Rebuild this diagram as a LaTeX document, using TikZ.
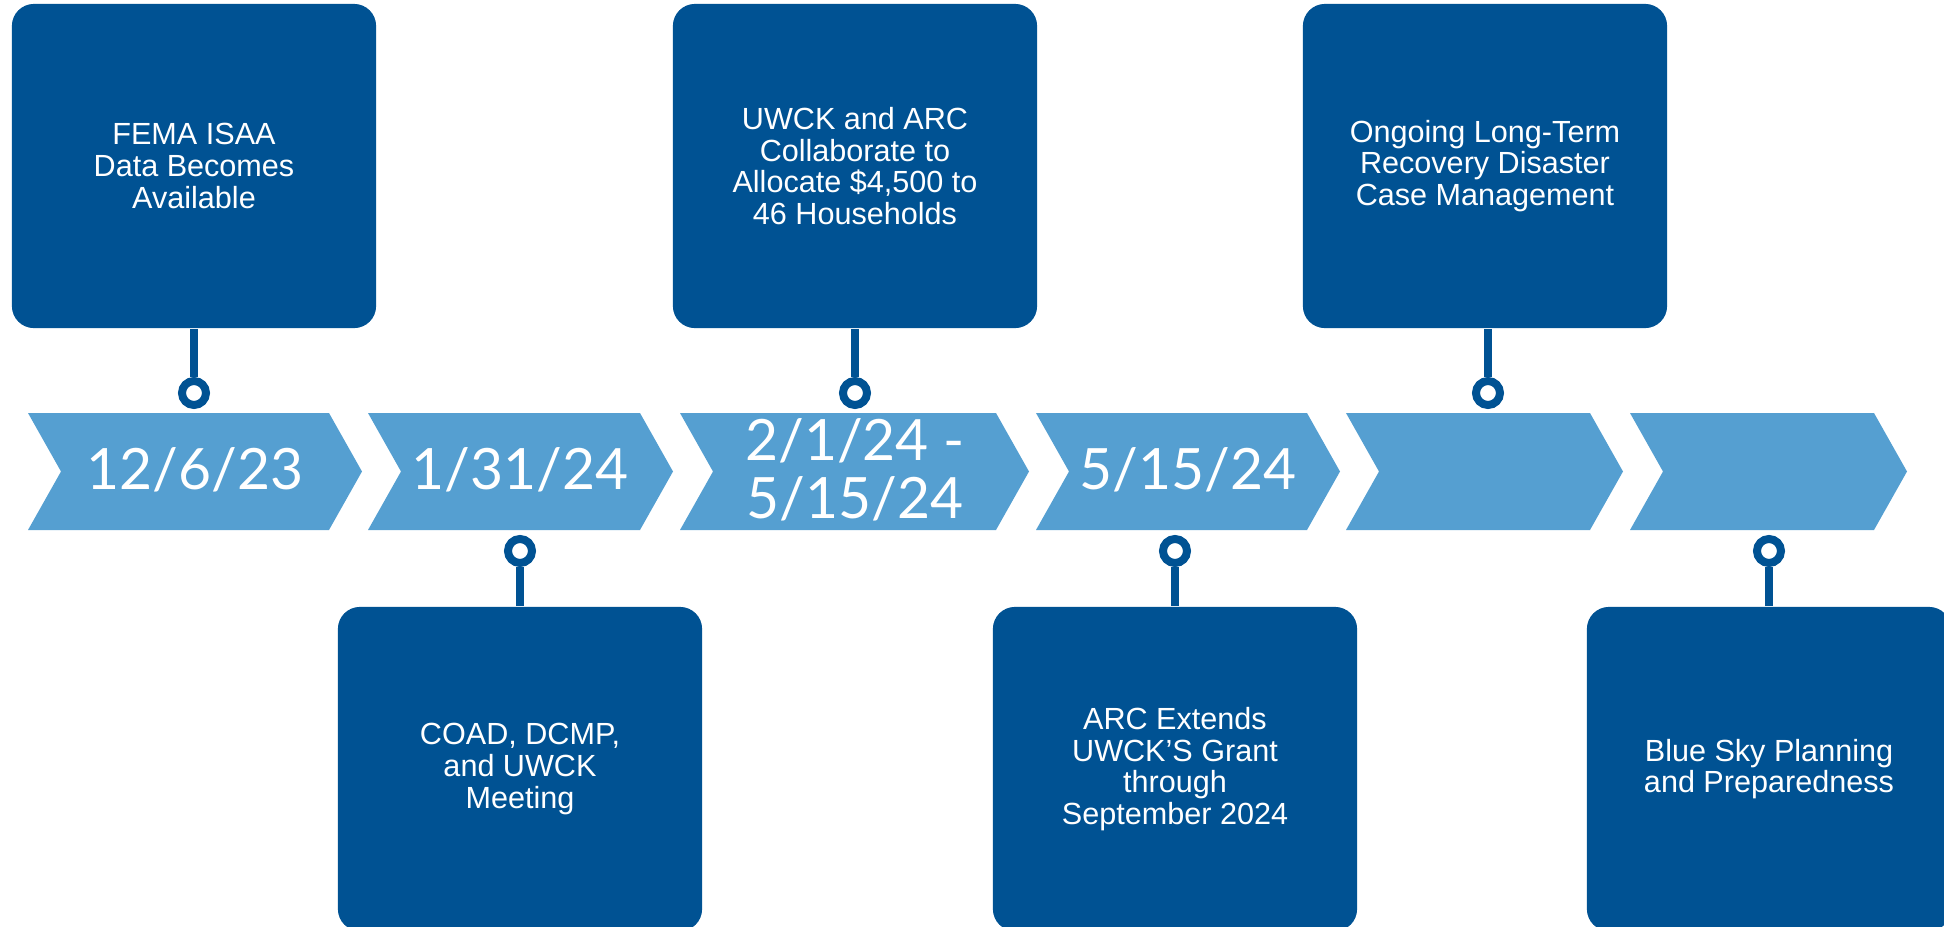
\documentclass[tikz,border=0pt]{standalone}
\usepackage{fontspec}
\setmainfont{Liberation Sans}
\newfontfamily\fontedata{Lato}
\usepackage{xcolor}
\definecolor{azulescuro}{RGB}{0,82,147}
\definecolor{azulclaro}{RGB}{85,159,209}

\begin{document}
\begin{tikzpicture}[x=0.01cm, y=-0.01cm,
  caixa/.style={fill=azulescuro, rounded corners=0.22cm, minimum width=3.64cm, minimum height=3.24cm,
    inner sep=0pt, text=white, align=center, font=\fontsize{8.7}{9}\selectfont},
  pino/.style={circle, draw=azulescuro, line width=0.08cm, fill=white, minimum size=0.24cm, inner sep=0pt},
  haste/.style={draw=azulescuro, line width=0.08cm},
  datas/.style={text=white, align=center, inner sep=0pt, font=\fontedata\fontsize{16.2}{16.5}\selectfont}]

% Area da figura
\clip (0,0) rectangle (1944,927);

% Setas da linha do tempo
\fill[azulclaro] (28,413) -- (329,413) -- (362,471.5) -- (329,530) -- (28,530) -- (61,471.5) -- cycle;
\fill[azulclaro] (368,413) -- (640,413) -- (673,471.5) -- (640,530) -- (368,530) -- (401,471.5) -- cycle;
\fill[azulclaro] (680,413) -- (996,413) -- (1029,471.5) -- (996,530) -- (680,530) -- (713,471.5) -- cycle;
\fill[azulclaro] (1036,413) -- (1307,413) -- (1340,471.5) -- (1307,530) -- (1036,530) -- (1069,471.5) -- cycle;
\fill[azulclaro] (1346,413) -- (1590,413) -- (1623,471.5) -- (1590,530) -- (1346,530) -- (1379,471.5) -- cycle;
\fill[azulclaro] (1630,413) -- (1874,413) -- (1907,471.5) -- (1874,530) -- (1630,530) -- (1663,471.5) -- cycle;

% Datas
\node[datas] (d1) at (195,470) {12/6/23};
\node[datas] (d2) at (520,470) {1/31/24};
\node[datas] (d3) at (855,470) {2/1/24 -\\5/15/24};
\node[datas] (d4) at (1188,470) {5/15/24};

% Caixas de cima
\node[caixa] (c1) at (194,166) {FEMA ISAA\\Data Becomes\\Available};
\node[caixa] (c3) at (855,166) {UWCK and ARC\\Collaborate to\\Allocate \$4,500 to\\46 Households};
\node[caixa] (c5) at (1485,166) {Ongoing Long-Term\\Recovery Disaster\\Case Management};

% Caixas de baixo
\node[caixa] (c2) at (520,769) {COAD, DCMP,\\and UWCK\\Meeting};
\node[caixa] (c4) at (1175,769) {ARC Extends\\UWCK’S Grant\\through\\September 2024};
\node[caixa] (c6) at (1769,769) {Blue Sky Planning\\and Preparedness};

% Pinos
\node[pino] (p1) at (194,393) {};
\node[pino] (p3) at (855,393) {};
\node[pino] (p5) at (1488,393) {};
\node[pino] (p2) at (520,551) {};
\node[pino] (p4) at (1175,551) {};
\node[pino] (p6) at (1769,551) {};

% Hastes
\draw[haste] (c1.south) -- (p1.north);
\draw[haste] (c3.south) -- (p3.north);
\draw[haste] (p5 |- c5.south) -- (p5.north);
\draw[haste] (p2.south) -- (c2.north);
\draw[haste] (p4.south) -- (c4.north);
\draw[haste] (p6.south) -- (c6.north);

\end{tikzpicture}
\end{document}
